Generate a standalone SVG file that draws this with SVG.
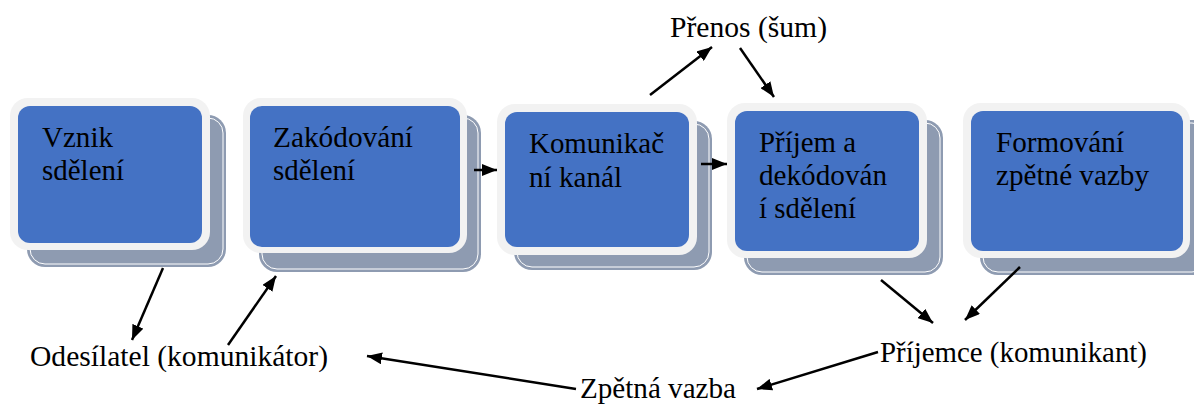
<svg xmlns="http://www.w3.org/2000/svg" width="1194" height="406" viewBox="0 0 1194 406">
<defs>
<style>
.sh{fill:#8e9bb1}
.shl{fill:none;stroke:#ffffff;stroke-width:1}
.out{fill:#f2f2f2}
.bl{fill:#4472c4}
.t{font-family:'Liberation Serif','DejaVu Serif','Noto Serif',serif;font-size:29.3px;fill:#000}
.c{stroke:#000;stroke-width:2.5;fill:none;marker-end:url(#ah)}
</style>
<marker id="ah" markerUnits="userSpaceOnUse" markerWidth="16" markerHeight="12" refX="15" refY="6" orient="auto">
<path d="M0,0 L15,6 L0,12 z" fill="#000"/>
</marker>
</defs>
<rect width="1194" height="406" fill="#fff"/>

<g id="n1">
<rect class="sh" x="27" y="115" width="199" height="152" rx="18"/>
<rect class="shl" x="30" y="118" width="193" height="146" rx="15"/>
<rect class="out" x="10" y="98" width="200" height="152" rx="18"/>
<rect class="bl" x="18" y="106" width="184" height="137" rx="12"/>
<text class="t" x="42" y="147" textLength="71" lengthAdjust="spacingAndGlyphs">Vznik</text>
<text class="t" x="42" y="180" textLength="82" lengthAdjust="spacingAndGlyphs">sdělení</text>
</g>

<g id="n2">
<rect class="sh" x="259" y="115" width="222" height="157" rx="18"/>
<rect class="shl" x="262" y="118" width="216" height="151" rx="15"/>
<rect class="out" x="243" y="98" width="224" height="155" rx="18"/>
<rect class="bl" x="250" y="106" width="210" height="141" rx="12"/>
<text class="t" x="273" y="147" textLength="140" lengthAdjust="spacingAndGlyphs">Zakódování</text>
<text class="t" x="273" y="180" textLength="82" lengthAdjust="spacingAndGlyphs">sdělení</text>
</g>

<g id="n3">
<rect class="sh" x="514" y="121" width="198" height="149" rx="18"/>
<rect class="shl" x="517" y="124" width="192" height="143" rx="15"/>
<rect class="out" x="497" y="104" width="200" height="151" rx="18"/>
<rect class="bl" x="505" y="112" width="184" height="135" rx="12"/>
<text class="t" x="529" y="153" textLength="135" lengthAdjust="spacingAndGlyphs">Komunikač</text>
<text class="t" x="529" y="187" textLength="93" lengthAdjust="spacingAndGlyphs">ní kanál</text>
</g>

<g id="n4">
<rect class="sh" x="744" y="120" width="199" height="155" rx="18"/>
<rect class="shl" x="747" y="123" width="193" height="149" rx="15"/>
<rect class="out" x="727" y="103" width="200" height="155" rx="18"/>
<rect class="bl" x="735" y="111" width="184" height="140" rx="12"/>
<text class="t" x="759" y="152" textLength="97" lengthAdjust="spacingAndGlyphs">Příjem a</text>
<text class="t" x="759" y="185" textLength="128" lengthAdjust="spacingAndGlyphs">dekódován</text>
<text class="t" x="759" y="218" textLength="97" lengthAdjust="spacingAndGlyphs">í sdělení</text>
</g>

<g id="n5">
<rect class="sh" x="980" y="120" width="230" height="155" rx="18"/>
<rect class="shl" x="983" y="123" width="224" height="149" rx="15"/>
<rect class="out" x="963" y="103" width="227" height="155" rx="18"/>
<rect class="bl" x="971" y="111" width="212" height="140" rx="12"/>
<text class="t" x="996" y="152" textLength="128" lengthAdjust="spacingAndGlyphs">Formování</text>
<text class="t" x="996" y="185" textLength="153" lengthAdjust="spacingAndGlyphs">zpětné vazby</text>
</g>

<g id="labels">
<text class="t" x="670" y="37" textLength="157" lengthAdjust="spacingAndGlyphs">Přenos (šum)</text>
<text class="t" x="30" y="366" textLength="298" lengthAdjust="spacingAndGlyphs">Odesílatel (komunikátor)</text>
<text class="t" x="880" y="362" textLength="267" lengthAdjust="spacingAndGlyphs">Příjemce (komunikant)</text>
<text class="t" x="580" y="398" textLength="156" lengthAdjust="spacingAndGlyphs">Zpětná vazba</text>
</g>

<g id="connectors">
<line class="c" x1="163" y1="268" x2="132" y2="340"/>
<line class="c" x1="228" y1="345" x2="276" y2="276"/>
<line class="c" x1="474" y1="170" x2="497" y2="170"/>
<line class="c" x1="701" y1="164" x2="727" y2="164"/>
<line class="c" x1="650" y1="95" x2="712" y2="47"/>
<line class="c" x1="740" y1="48" x2="774" y2="97"/>
<line class="c" x1="881" y1="280" x2="933" y2="323"/>
<line class="c" x1="1020" y1="267" x2="965" y2="320"/>
<line class="c" x1="878" y1="352" x2="757" y2="389"/>
<line class="c" x1="576" y1="389" x2="367" y2="356"/>
</g>
</svg>
